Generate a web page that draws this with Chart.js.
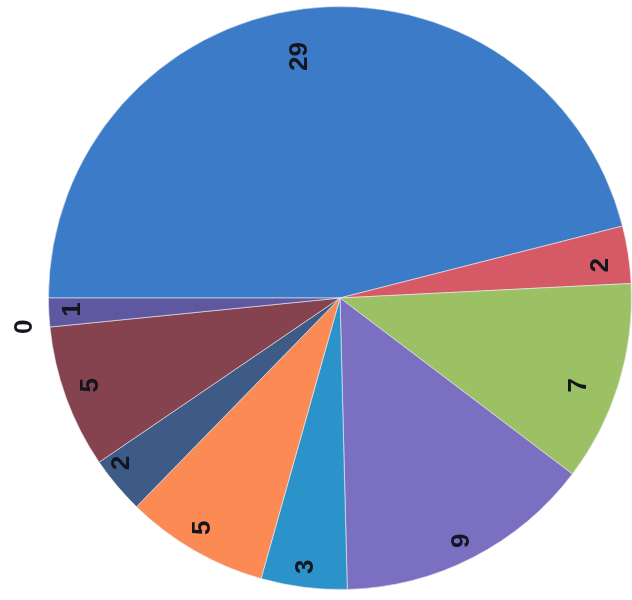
<!DOCTYPE html>
<html>
<head>
<meta charset="utf-8">
<script src="https://cdn.jsdelivr.net/npm/chart.js@4/dist/chart.umd.min.js"></script>
<style>
  html, body { margin: 0; padding: 0; background: #ffffff; overflow: hidden; }
  #wrap { position: relative; width: 640px; height: 600px; }
</style>
</head>
<body>
<div id="wrap"><canvas id="c"></canvas></div>
<script>
const categories = ['A', 'B', 'C', 'D', 'E', 'F', 'G', 'H', 'I', 'J'];
const values = [29, 2, 7, 9, 3, 5, 2, 5, 1, 0];
const labelsText = ['29', '2', '7', '9', '3', '5', '2', '5', '1', '0'];
const colors = ['#3b7bc8', '#d65a65', '#9cc064', '#7b6fc2', '#2b93c9', '#fb8a55', '#3d5b86', '#85434f', '#5d58a0', '#5f7530'];
// label placement: fraction of radius, angular offset (deg)
const labelRadius = [0.84, 0.90, 0.87, 0.93, 0.93, 0.92, 0.94, 0.91, 0.92, 1.09];
const labelAngleOffset = [-2.5, 1.4, 3, 0.7, 0.3, 1, 3, 0.8, 0.4, -5.2];

const labelPlugin = {
  id: 'rotLabels',
  afterDatasetsDraw(chart) {
    const ctx = chart.ctx;
    const meta = chart.getDatasetMeta(0);
    ctx.save();
    ctx.fillStyle = '#15151f';
    ctx.font = 'bold 26px "Liberation Sans", Arial, sans-serif';
    ctx.textAlign = 'center';
    ctx.textBaseline = 'middle';
    meta.data.forEach((arc, i) => {
      const p = arc.getProps(['x', 'y', 'startAngle', 'endAngle', 'outerRadius'], true);
      const mid = (p.startAngle + p.endAngle) / 2 + labelAngleOffset[i] * Math.PI / 180;
      const r = p.outerRadius * labelRadius[i];
      const x = p.x + Math.cos(mid) * r;
      const y = p.y + Math.sin(mid) * r;
      ctx.save();
      ctx.translate(x, y);
      ctx.rotate(-Math.PI / 2);
      ctx.fillText(labelsText[i], 0, 1);
      ctx.restore();
    });
    ctx.restore();
  }
};

new Chart(document.getElementById('c'), {
  type: 'pie',
  data: {
    labels: categories,
    datasets: [{
      data: values,
      backgroundColor: colors,
      borderColor: 'rgba(235,235,240,0.6)',
      borderWidth: 1,
      hoverOffset: 0
    }]
  },
  options: {
    responsive: true,
    maintainAspectRatio: false,
    animation: false,
    rotation: -90,
    layout: { padding: { top: 6, bottom: 10, left: 48, right: 8 } },
    plugins: { legend: { display: false }, tooltip: { enabled: false } }
  },
  plugins: [labelPlugin]
});
</script>
</body>
</html>
